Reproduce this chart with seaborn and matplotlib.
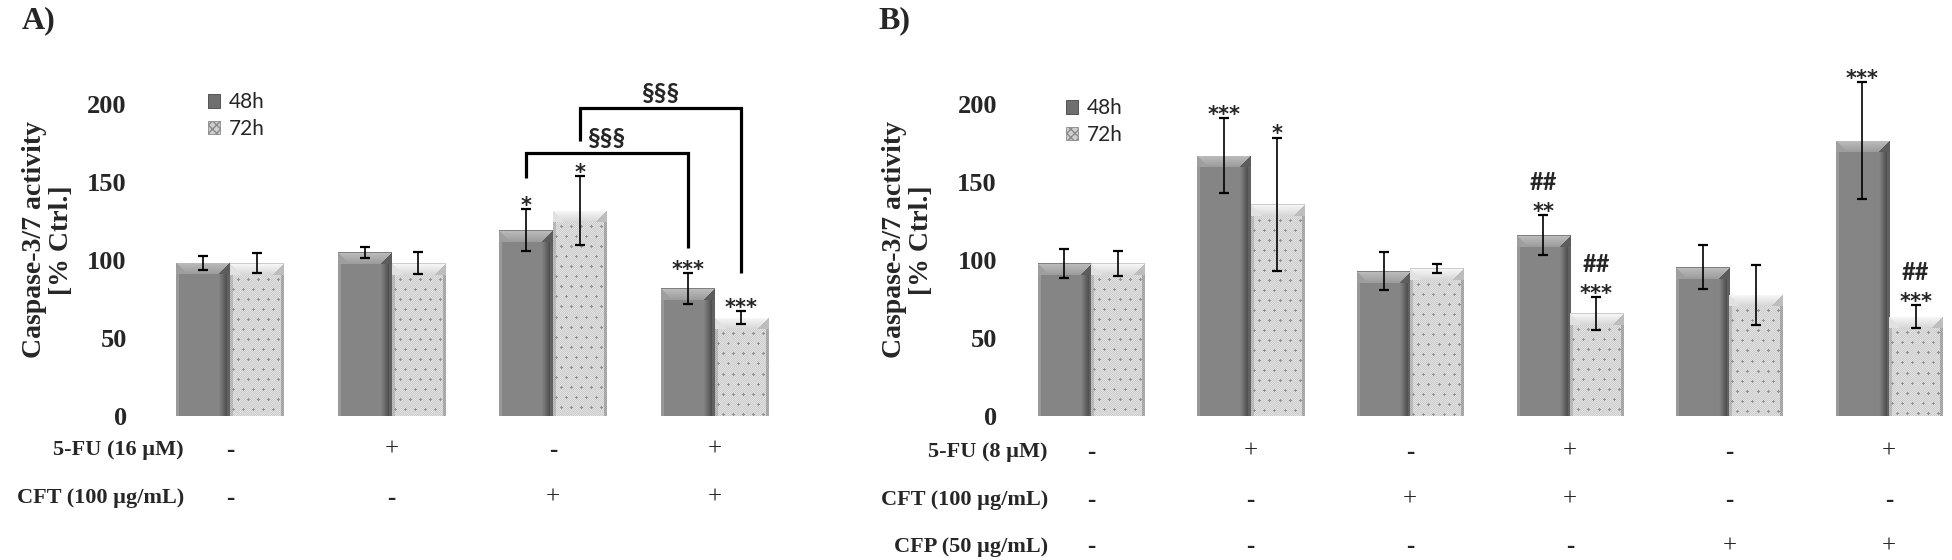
import numpy as np
import pandas as pd
import matplotlib
matplotlib.use("Agg")
import matplotlib.pyplot as plt
import matplotlib.transforms as mtrans
from matplotlib.patches import Patch
import seaborn as sns

# ---------------- data ----------------
times = ["48h", "72h"]

a_groups = ["A1", "A2", "A3", "A4"]
a_48 = [98.3, 104.9, 119.2, 81.9]
a_48_err = [4.5, 3.7, 13.3, 9.8]
a_72 = [97.9, 98.0, 131.6, 63.0]
a_72_err = [6.4, 7.0, 22.0, 4.0]
a_sig_48 = ["", "", "*", "***"]
a_sig_72 = ["", "", "*", "***"]
a_hash_48 = ["", "", "", ""]
a_hash_72 = ["", "", "", ""]
a_row_labels = ["5-FU (16 µM)", "CFT (100 µg/mL)"]
a_rows = [["-", "+", "-", "+"], ["-", "-", "+", "+"]]

b_groups = ["B1", "B2", "B3", "B4", "B5", "B6"]
b_48 = [97.9, 166.9, 92.9, 115.8, 95.3, 176.5]
b_48_err = [9.3, 24.0, 12.3, 12.8, 14.2, 37.6]
b_72 = [97.9, 135.7, 94.7, 65.8, 77.6, 63.7]
b_72_err = [8.1, 42.7, 2.9, 10.4, 19.3, 7.3]
b_sig_48 = ["", "***", "", "**", "", "***"]
b_sig_72 = ["", "*", "", "***", "", "***"]
b_hash_48 = ["", "", "", "##", "", ""]
b_hash_72 = ["", "", "", "##", "", "##"]
b_row_labels = ["5-FU (8 µM)", "CFT (100 µg/mL)", "CFP (50 µg/mL)"]
b_rows = [["-", "+", "-", "+", "-", "+"],
          ["-", "-", "+", "+", "-", "-"],
          ["-", "-", "-", "-", "+", "+"]]

yticks = [0, 50, 100, 150, 200]
ylabel = "Caspase-3/7 activity\n[% Ctrl.]"

# ---------------- style ----------------
sns.set_theme(style="white")
plt.rcParams["font.family"] = ["DejaVu Sans"]
SERIF = ["Liberation Serif", "DejaVu Serif"]
SANS = ["Lato", "DejaVu Sans"]
STAR = ["DejaVu Sans"]

W, H = 1952, 560
fig = plt.figure(figsize=(W / 100, H / 100), dpi=100)

BASE = 416.0          # px of value 0
PPU = 1.56            # px per unit
TOP = 40.0
BW = 0.667            # group width (data units)


def add_axes_px(l, r):
    return fig.add_axes([l / W, 1 - BASE / H, (r - l) / W, (BASE - TOP) / H])


def texture(wpx, hpx, kind):
    Wd = max(int(round(wpx)), 4)
    Hh = max(int(round(hpx)), 4)
    u = np.arange(Wd) / (Wd - 1)
    if kind == 0:
        prof = np.full(Wd, 0.52)
        prof[u < 0.05] = 0.60
        m = (u >= 0.80) & (u <= 0.96)
        prof[m] = 0.52 - (u[m] - 0.80) / 0.16 * 0.23
        prof[u > 0.96] = 0.38
        img = np.tile(prof, (Hh, 1))
        top_light, side_l, side_r, top_edge = 0.74, 0.62, 0.36, 0.50
    else:
        prof = np.full(Wd, 0.84)
        prof[u < 0.04] = 0.72
        prof[u > 0.95] = 0.66
        img = np.tile(prof, (Hh, 1))
        rr, cc = np.mgrid[0:Hh, 0:Wd]
        img = img + 0.08 * (((rr + cc) % 2) - 0.5)
        sp = 10
        for k, ry in enumerate(range(6, Hh - 1, sp)):
            off = 3 if k % 2 == 0 else 8
            for cx in range(off, Wd - 1, sp):
                img[ry, cx - 1:cx + 2] = 0.58
                img[ry - 1:ry + 2, cx] = 0.58
        top_light, side_l, side_r, top_edge = 0.97, 0.88, 0.74, 0.80
    B = min(12, Hh // 3)
    for r in range(B):
        t = r / max(B, 1)
        lo, hi = r, Wd - 1 - r
        img[r, lo:hi + 1] = top_light - 0.14 * t
        img[r, :lo] = side_l
        img[r, hi + 1:] = side_r
    img[0, :] = top_edge
    return np.clip(img, 0, 1)


def draw_panel(ax, groups, v48, e48, v72, e72, s48, s72, h48, h72,
               xlim, tick_pad):
    n = len(groups)
    df = pd.DataFrame({
        "group": groups * 2,
        "time": [times[0]] * n + [times[1]] * n,
        "value": list(v48) + list(v72),
    })
    sns.barplot(data=df, x="group", y="value", hue="time", order=groups,
                hue_order=times, palette={"48h": "#878787", "72h": "#d6d6d6"},
                width=BW, gap=0, errorbar=None, legend=False, saturation=1,
                linewidth=0, ax=ax)
    ax.set_xlim(*xlim)
    ax.set_ylim(0, (BASE - TOP) / PPU)
    ax.set_autoscale_on(False)
    ppx = ax.transData.transform((1, 0))[0] - ax.transData.transform((0, 0))[0]
    ppy = ax.transData.transform((0, 1))[1] - ax.transData.transform((0, 0))[1]
    for p in list(ax.patches):
        x0, w, h = p.get_x(), p.get_width(), p.get_height()
        c = x0 + w / 2
        kind = 0 if c < round(c) else 1
        img = texture(w * ppx, h * ppy, kind)
        im = ax.imshow(img, cmap="gray", vmin=0, vmax=1,
                       extent=(x0, x0 + w, 0, h), origin="upper",
                       aspect="auto", interpolation="nearest", zorder=1.5)
        im.set_clip_path(p)
    xs48 = np.arange(n) - BW / 4
    xs72 = np.arange(n) + BW / 4
    for xs, v, e in ((xs48, v48, e48), (xs72, v72, e72)):
        ax.errorbar(xs, v, yerr=e, fmt="none", ecolor="black",
                    elinewidth=1.2, capsize=3.6, capthick=1.6, zorder=3)
    for xs, v, e, ss, hh in ((xs48, v48, e48, s48, h48),
                             (xs72, v72, e72, s72, h72)):
        for x, vv, ee, s, hs in zip(xs, v, e, ss, hh):
            if s:
                ax.annotate(s, (x, vv + ee), xytext=(0, -2),
                            textcoords="offset points", ha="center",
                            va="baseline", fontsize=15, fontweight="bold",
                            family=STAR, zorder=4)
            if hs:
                ax.annotate(hs, (x, vv + ee), xytext=(0, 18),
                            textcoords="offset points", ha="center",
                            va="baseline", fontsize=17, fontweight="bold",
                            family=SANS, zorder=4)
    ax.set_yticks(yticks)
    ax.set_yticklabels([str(t) for t in yticks], fontsize=19,
                       fontweight="bold", family=SERIF)
    ax.tick_params(axis="y", length=0, pad=tick_pad)
    ax.set_xticks([])
    ax.set_xlabel("")
    ax.set_ylabel("")
    for sp in ax.spines.values():
        sp.set_visible(False)
    ax.patch.set_alpha(0)
    return xs48, xs72


def table(ax, labels, rows, label_right_px, row_y_px):
    tr = mtrans.blended_transform_factory(ax.transData, fig.transFigure)
    for lab, marks, ypx in zip(labels, rows, row_y_px):
        fig.text(label_right_px / W, 1 - ypx / H, lab, ha="right",
                 va="center", fontsize=16, fontweight="bold", family=SERIF)
        for i, m in enumerate(marks):
            ax.text(i, 1 - ypx / H, m, transform=tr, ha="center",
                    va="center", fontsize=18,
                    fontweight="bold" if m == "-" else "normal",
                    family=SERIF)


def legend(ax, x_px, y_px):
    handles = [Patch(facecolor="#6f6f6f", edgecolor="#444444", lw=0.6),
               Patch(facecolor="#cfcfcf", edgecolor="#8a8a8a", lw=0.6,
                     hatch="xxxx")]
    ax.legend(handles, times, loc="upper left",
              bbox_to_anchor=(x_px / W, 1 - y_px / H),
              bbox_transform=fig.transFigure, frameon=False, borderpad=0,
              handlelength=0.55, handleheight=0.6, handletextpad=0.45,
              labelspacing=0.3, prop={"family": SANS, "size": 15})


# ---------------- panel A ----------------
axA = add_axes_px(140, 790)
cA = 230.0
sA = 161.5
xs48A, xs72A = draw_panel(axA, a_groups, a_48, a_48_err, a_72, a_72_err,
                          a_sig_48, a_sig_72, a_hash_48, a_hash_72,
                          ((140 - cA) / sA, (790 - cA) / sA), 9.5)
table(axA, a_row_labels, a_rows, 184, [450, 498])
legend(axA, 198, 82)

# significance brackets (between 48h/72h of groups 3 and 4)
brackets = [
    # x-left, x-right, top level, left leg bottom, right leg bottom
    (xs48A[2], xs48A[3], 168.8, 152.6, 107.5),
    (xs72A[2], xs72A[3], 197.6, 176.5, 91.7),
]
for xl, xr, top, lb, rb in brackets:
    axA.plot([xl, xl, xr, xr], [lb, top, top, rb], color="black", lw=2.3,
             solid_joinstyle="miter", solid_capstyle="butt", zorder=4,
             clip_on=False)
    axA.annotate("§§§", ((xl + xr) / 2, top), xytext=(0, 5),
                 textcoords="offset points", ha="center", va="baseline",
                 fontsize=18, fontweight="bold", family=SANS)

# ---------------- panel B ----------------
axB = add_axes_px(1005, 1950)
cB = 1091.0
sB = 159.6
draw_panel(axB, b_groups, b_48, b_48_err, b_72, b_72_err,
           b_sig_48, b_sig_72, b_hash_48, b_hash_72,
           ((1005 - cB) / sB, (1950 - cB) / sB), 5.8)
table(axB, b_row_labels, b_rows, 1048, [452, 500, 547])
legend(axB, 1056, 88)

# ---------------- labels ----------------
for xc in (48, 908):
    fig.text(xc / W, 1 - 240 / H, ylabel, rotation=90, ha="center",
             va="center", multialignment="center", fontsize=20,
             fontweight="bold", family=SERIF, linespacing=1.1)
fig.text(22 / W, 1 - 6 / H, "A)", ha="left", va="top", fontsize=23,
         fontweight="bold", family=SERIF)
fig.text(878 / W, 1 - 6 / H, "B)", ha="left", va="top", fontsize=23,
         fontweight="bold", family=SERIF)

fig.savefig("out.png", dpi=100, facecolor="white")
